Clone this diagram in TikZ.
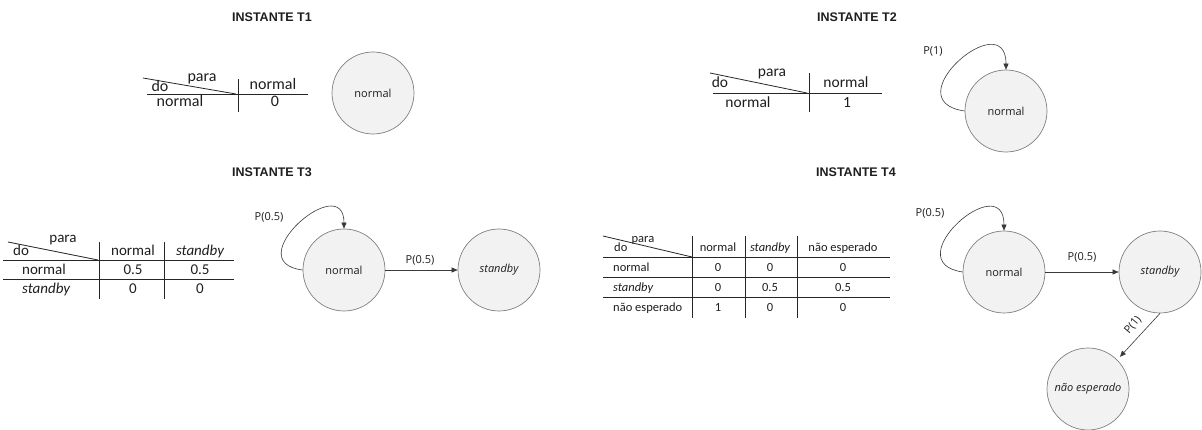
\documentclass[tikz,border=0pt]{standalone}
\usepackage{fontspec}
\setmainfont{Carlito}
\newfontfamily\osans{Open Sans}
\newfontfamily\arialf{Liberation Sans}
\usetikzlibrary{arrows.meta,calc}
\definecolor{circfill}{HTML}{F2F2F2}
\definecolor{circdraw}{HTML}{808080}
\definecolor{linec}{HTML}{3A3A3A}
\definecolor{textc}{HTML}{1E1E1E}
\begin{document}
\begin{tikzpicture}[x=1pt,y=-1pt,
  title/.style={font=\arialf\bfseries\fontsize{12.5}{14}\selectfont, text=textc, inner sep=0},
  state/.style={circle, draw=circdraw, fill=circfill, line width=0.7pt, minimum size=82pt, inner sep=0,
    font=\osans\fontsize{11}{13}\selectfont, text=textc},
  tline/.style={draw=black!85, line width=0.8pt},
  tx/.style={anchor=base, inner sep=0, text=textc},
  ta/.style={tx, font=\fontsize{16}{18}\selectfont},
  tb/.style={tx, font=\fontsize{15.5}{18}\selectfont},
  tc/.style={tx, font=\fontsize{15}{17}\selectfont},
  td/.style={tx, font=\fontsize{12.5}{15}\selectfont},
  arr/.style={draw=linec, line width=0.6pt, -{Triangle[length=6pt,width=5pt]}},
  plab/.style={font=\osans\fontsize{11}{13}\selectfont, text=textc, inner sep=1pt}]
\useasboundingbox (0,0) rectangle (1202,430);

% titles
\node[title] (h1) at (272,17) {INSTANTE T1};
\node[title] (h2) at (857,17) {INSTANTE T2};
\node[title] (h3) at (272,172) {INSTANTE T3};
\node[title] (h4) at (856,172) {INSTANTE T4};

% ---------- T1 ----------
\draw[tline] (143,78) -- (236,94);
\draw[tline] (147,94) -- (308,94);
\draw[tline] (238,79) -- (238,112);
\node[ta] (t1para) at (202,82) {para};
\node[ta] (t1do) at (160,92) {do};
\node[ta] (t1h) at (273,90) {normal};
\node[ta] (t1r) at (180,107) {normal};
\node[ta] (t1v) at (275,107) {0};
\node[state] (n1) at (373,93) {normal};

% ---------- T2 ----------
\draw[tline] (710,73) -- (807,93);
\draw[tline] (713,93) -- (882,93);
\draw[tline] (809,73) -- (809,112);
\node[tb] (t2para) at (772,77) {para};
\node[tb] (t2do) at (720,88) {do};
\node[tb] (t2h) at (846,88) {normal};
\node[tb] (t2r) at (748,108) {normal};
\node[tb] (t2v) at (847,108) {1};
\node[state] (n2) at (1006,111) {normal};
\draw[arr] (n2.west) .. controls +(-72,-10) and +(0,-66) .. (n2.north);
\node[plab] (p2) at (933,51) {P(1)};

% ---------- T3 ----------
\draw[tline] (8,242) -- (98,260);
\draw[tline] (3,260) -- (234,260);
\draw[tline] (3,279) -- (234,279);
\draw[tline] (99,242) -- (99,299);
\draw[tline] (164,242) -- (164,299);
\node[tc] (t3para) at (63,243) {para};
\node[tc,anchor=base west] (t3do) at (13,256) {do};
\node[tc] (t3h1) at (133,256) {normal};
\node[tc] (t3h2) at (200,256) {\itshape standby};
\node[tc,anchor=base west] (t3r1) at (22,275) {normal};
\node[tc] (t3v11) at (133,275) {0.5};
\node[tc] (t3v12) at (200,275) {0.5};
\node[tc,anchor=base west] (t3r2) at (22,294) {\itshape standby};
\node[tc] (t3v21) at (133,294) {0};
\node[tc] (t3v22) at (200,294) {0};

\node[state] (n3) at (344,270) {normal};
\node[state] (s3) at (499,270) {\itshape standby};
\draw[arr] (n3.west) .. controls +(-66,-8) and +(0,-60) .. (n3.north);
\node[plab] (p3a) at (269,217) {P(0.5)};
\draw[arr] (n3.east) -- (s3.west);
\node[plab] (p3b) at (420,260) {P(0.5)};

% ---------- T4 ----------
\draw[tline] (603,236) -- (692,257);
\draw[tline] (603,257) -- (890,257);
\draw[tline] (603,277) -- (890,277);
\draw[tline] (603,297) -- (890,297);
\draw[tline] (692,236) -- (692,318);
\draw[tline] (745,236) -- (745,318);
\draw[tline] (797,236) -- (797,318);
\node[td] (t4para) at (643,243) {para};
\node[td,anchor=base west] (t4do) at (614,252) {do};
\node[td] (t4h1) at (718,252) {normal};
\node[td] (t4h2) at (770,252) {\itshape standby};
\node[td] (t4h3) at (843,252) {não esperado};
\node[td,anchor=base west] (t4r1) at (613,272) {normal};
\node[td] (t4v11) at (718,272) {0};
\node[td] (t4v12) at (770,272) {0};
\node[td] (t4v13) at (843,272) {0};
\node[td,anchor=base west] (t4r2) at (613,292) {\itshape standby};
\node[td] (t4v21) at (718,292) {0};
\node[td] (t4v22) at (770,292) {0.5};
\node[td] (t4v23) at (843,292) {0.5};
\node[td,anchor=base west] (t4r3) at (613,312) {não esperado};
\node[td] (t4v31) at (718,312) {1};
\node[td] (t4v32) at (770,312) {0};
\node[td] (t4v33) at (843,312) {0};

\node[state] (n4) at (1004,272) {normal};
\node[state] (s4) at (1160,272) {\itshape standby};
\node[state] (e4) at (1088,389) {\itshape não esperado};
\draw[arr] (n4.west) .. controls +(-68,-10) and +(0,-64) .. (n4.north);
\node[plab] (p4a) at (930,213) {P(0.5)};
\draw[arr] (n4.east) -- (s4.west);
\node[plab] (p4b) at (1082,257) {P(0.5)};
\draw[arr, shorten >=4pt] (s4.south) -- (e4.north east);
\node[plab, rotate=50] (p4c) at (1133,325) {P(1)};
\end{tikzpicture}
\end{document}
